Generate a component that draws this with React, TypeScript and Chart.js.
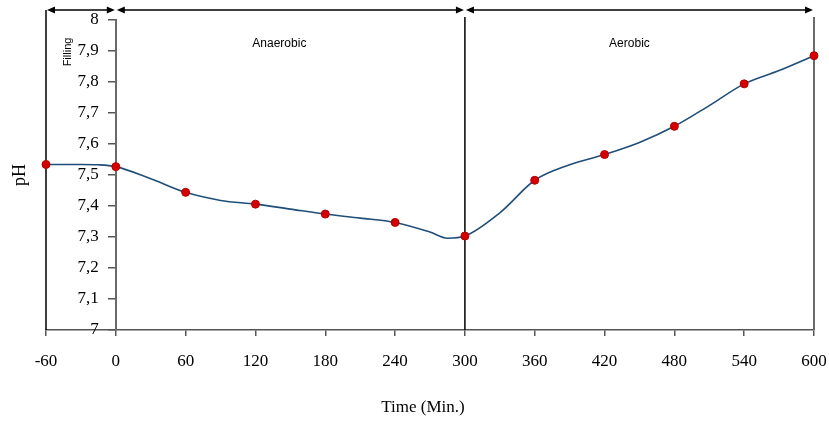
import React, { useEffect, useRef } from 'react';
import { Chart, registerables } from 'chart.js';

Chart.register(...registerables);

// Smoothed trend line (minutes, pH)
const curveMinutes = [-60, -30, -15, 0, 30, 60, 90, 120, 150, 180, 210, 240, 270, 285, 300, 330, 360, 390, 420, 450, 480, 510, 540, 570, 600];
const curvePH = [7.534, 7.534, 7.533, 7.527, 7.488, 7.444, 7.418, 7.406, 7.39, 7.374, 7.361, 7.347, 7.316, 7.296, 7.303, 7.378, 7.483, 7.533, 7.566, 7.605, 7.657, 7.724, 7.794, 7.837, 7.885];

// Measured samples (red markers)
const sampleMinutes = [-60, 0, 60, 120, 180, 240, 300, 360, 420, 480, 540, 600];
const samplePH = [7.534, 7.527, 7.444, 7.406, 7.374, 7.347, 7.303, 7.483, 7.566, 7.657, 7.794, 7.885];

// Phases
const phaseBounds = [-60, 0, 300, 600];
const phaseLabels = ['Filling', 'Anaerobic', 'Aerobic'];

const xMin = -60;
const xMax = 600;
const xStep = 60;
const yMin = 7;
const yMax = 8;
const yStep = 0.1;

const xTitle = 'Time (Min.)';
const yTitle = 'pH';

const SERIF = '"Liberation Serif", "Times New Roman", serif';
const SANS = '"Liberation Sans", Arial, sans-serif';

function fmtY(v: number): string {
  const r = Math.round(v * 10) / 10;
  if (Math.abs(r - Math.round(r)) < 1e-9) return String(Math.round(r));
  return r.toFixed(1).replace('.', ',');
}

const overlayPlugin = {
  id: 'overlay',
  beforeDraw(chart: any) {
    // move the y-axis labels (axis sits at x = 0) to the left of their tick marks
    const ys = chart.scales.y;
    const items = ys.getLabelItems(chart.chartArea);
    items.forEach((it: any) => {
      if (!it._shifted) {
        it.options.translation[0] -= 17;
        it._shifted = true;
      }
    });
  },
  beforeDatasetsDraw(chart: any) {
    const { ctx, chartArea } = chart;
    const xs = chart.scales.x;
    const px = (v: number) => xs.getPixelForValue(v);
    const bottom = chartArea.bottom;
    const arrowY = 10;
    ctx.save();
    // vertical separators
    ctx.strokeStyle = '#000';
    ctx.lineWidth = 1.5;
    ctx.beginPath();
    ctx.moveTo(px(phaseBounds[0]), arrowY);
    ctx.lineTo(px(phaseBounds[0]), bottom);
    ctx.moveTo(px(phaseBounds[2]), 17);
    ctx.lineTo(px(phaseBounds[2]), bottom);
    ctx.stroke();
    ctx.strokeStyle = '#6a6a6a';
    ctx.lineWidth = 2;
    ctx.beginPath();
    ctx.moveTo(px(phaseBounds[3]), 17);
    ctx.lineTo(px(phaseBounds[3]), bottom);
    ctx.stroke();

    // double arrows
    const head = (tipX: number, dir: number) => {
      ctx.beginPath();
      ctx.moveTo(tipX, arrowY);
      ctx.lineTo(tipX + dir * 8, arrowY - 3.5);
      ctx.lineTo(tipX + dir * 8, arrowY + 3.5);
      ctx.closePath();
      ctx.fill();
    };
    ctx.strokeStyle = '#000';
    ctx.fillStyle = '#000';
    ctx.lineWidth = 1.5;
    for (let i = 0; i < phaseBounds.length - 1; i++) {
      const a = px(phaseBounds[i]) + 1;
      const b = px(phaseBounds[i + 1]) - 1;
      ctx.beginPath();
      ctx.moveTo(a + 4, arrowY);
      ctx.lineTo(b - 4, arrowY);
      ctx.stroke();
      head(a, 1);
      head(b, -1);
    }
    ctx.restore();
  },
  afterDraw(chart: any) {
    const { ctx, chartArea } = chart;
    const xs = chart.scales.x;
    const px = (v: number) => xs.getPixelForValue(v);
    ctx.save();
    ctx.fillStyle = '#000';
    ctx.textAlign = 'center';
    ctx.textBaseline = 'middle';
    // phase labels
    ctx.font = '12px ' + SANS;
    ctx.fillText(phaseLabels[1], (px(phaseBounds[1]) + px(phaseBounds[2])) / 2 - 11, 44);
    ctx.fillText(phaseLabels[2], (px(phaseBounds[2]) + px(phaseBounds[3])) / 2 - 10, 44);
    ctx.save();
    ctx.translate(px(phaseBounds[0]) + 22, 52);
    ctx.rotate(-Math.PI / 2);
    ctx.font = '11px ' + SANS;
    ctx.fillText(phaseLabels[0], 0, 0);
    ctx.restore();
    // axis titles
    ctx.font = '17px ' + SERIF;
    ctx.fillText(xTitle, (chartArea.left + chartArea.right) / 2 - 7, 408);
    ctx.save();
    ctx.translate(20, 175);
    ctx.rotate(-Math.PI / 2);
    ctx.font = '18px ' + SERIF;
    ctx.fillText(yTitle, 0, 0);
    ctx.restore();
    ctx.restore();
  },
};

export default function App() {
  const ref = useRef<HTMLCanvasElement | null>(null);
  useEffect(() => {
    document.body.style.margin = '0';
    const canvas = ref.current;
    if (!canvas) return;
    const chart = new Chart(canvas, {
      type: 'line',
      data: {
        datasets: [
          {
            label: 'trend',
            data: curveMinutes.map((m, i) => ({ x: m, y: curvePH[i] })),
            borderColor: '#1f4e79',
            borderWidth: 1.6,
            pointRadius: 0,
            cubicInterpolationMode: 'monotone',
            fill: false,
            clip: false as any,
            order: 2,
          },
          {
            label: 'samples',
            data: sampleMinutes.map((m, i) => ({ x: m, y: samplePH[i] })),
            showLine: false,
            pointRadius: 4,
            pointBackgroundColor: '#d40000',
            pointBorderColor: '#b00000',
            pointBorderWidth: 1,
            clip: false as any,
            order: 1,
          },
        ],
      },
      options: {
        responsive: false,
        animation: false,
        devicePixelRatio: 1,
        layout: { padding: { left: 46, right: 15, top: 20, bottom: 0 } },
        plugins: { legend: { display: false }, tooltip: { enabled: false }, title: { display: false } },
        scales: {
          x: {
            type: 'linear',
            min: xMin,
            max: xMax,
            position: 'bottom',
            afterFit: (s: any) => { s.height = 91; s.paddingLeft = 0; s.paddingRight = 0; },
            ticks: {
              stepSize: xStep,
              color: '#000',
              font: { family: SERIF, size: 17 },
              padding: 15,
              maxRotation: 0,
              autoSkip: false,
            },
            grid: { display: true, drawOnChartArea: false, drawTicks: true, tickLength: 6, color: '#555', lineWidth: 1.5 },
            border: { display: true, color: '#555', width: 1.5 },
          },
          y: {
            type: 'linear',
            min: yMin,
            max: yMax,
            position: { x: 0 } as any,
            afterFit: (s: any) => { s.width = 0; s.paddingTop = 0; s.paddingBottom = 0; },
            ticks: {
              stepSize: yStep,
              color: '#000',
              font: { family: SERIF, size: 17 },
              padding: 10,
              callback: (v: any) => fmtY(Number(v)),
            },
            grid: { display: true, drawOnChartArea: false, drawTicks: true, tickLength: 7, color: '#555', lineWidth: 1.5 },
            border: { display: true, color: '#6a6a6a', width: 2 },
          },
        },
      },
      plugins: [overlayPlugin],
    });
    return () => chart.destroy();
  }, []);
  return (
    <div style={{ position: 'absolute', left: 0, top: 0, width: 829, height: 421, background: '#fff' }}>
      <canvas ref={ref} width={829} height={421} style={{ width: 829, height: 421, display: 'block' }} />
    </div>
  );
}
